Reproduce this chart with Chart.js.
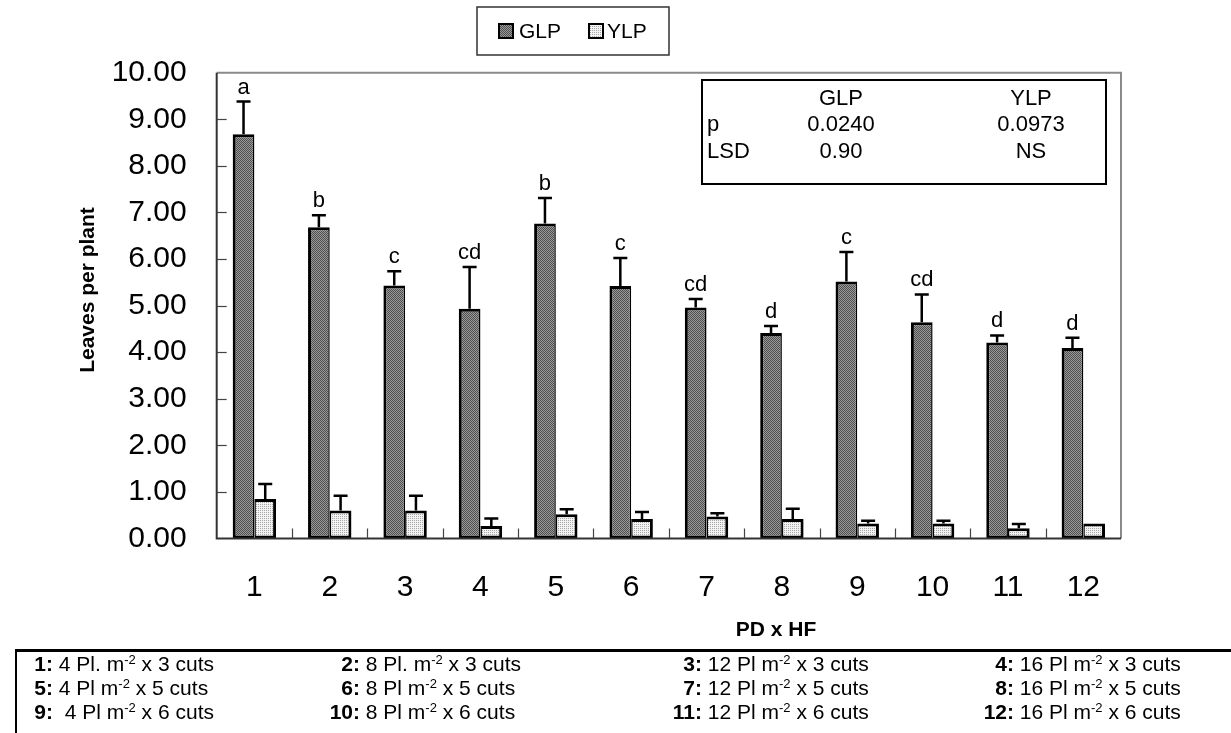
<!DOCTYPE html>
<html><head><meta charset="utf-8">
<script src="https://cdn.jsdelivr.net/npm/chart.js@4.4.1/dist/chart.umd.min.js"></script>
<style>
html,body{margin:0;padding:0;background:#fff;}
body{width:1231px;height:733px;position:relative;overflow:hidden;font-family:"Liberation Sans",Arial,sans-serif;}
#wrap{position:absolute;left:0;top:0;width:1231px;height:733px;}
.t{position:absolute;white-space:pre;line-height:1;color:#000;}
#inset{position:absolute;left:701px;top:79px;width:406px;height:106px;border:2px solid #000;box-sizing:border-box;}
#tblBox{position:absolute;left:15px;top:649px;width:1240px;height:120px;border-left:2px solid #000;border-top:3px solid #000;box-sizing:border-box;}
sup{font-size:0.62em;vertical-align:0.55em;line-height:0;}
</style></head>
<body>
<div id="wrap"><canvas id="c" width="1231" height="733"></canvas></div>
<div id="inset"></div>
<div id="tblBox"></div>
<div id="txt"></div>
<script>
// ---------- data ----------
const categories = ['1','2','3','4','5','6','7','8','9','10','11','12'];
const seriesNames = ['GLP','YLP'];
const glpMeans = [8.68, 6.68, 5.43, 4.93, 6.76, 5.42, 4.96, 4.41, 5.52, 4.64, 4.21, 4.09];
const glpSE    = [0.70, 0.26, 0.31, 0.90, 0.55, 0.60, 0.18, 0.15, 0.63, 0.60, 0.15, 0.22];
const ylpMeans = [0.85, 0.60, 0.60, 0.27, 0.52, 0.42, 0.47, 0.42, 0.32, 0.32, 0.22, 0.32];
const ylpSE    = [0.32, 0.32, 0.32, 0.16, 0.11, 0.15, 0.07, 0.22, 0.06, 0.06, 0.09, 0.00];
const glpLetters = ['a','b','c','cd','b','c','cd','d','c','cd','d','d'];
const yMin = 0, yMax = 10, yStep = 1;
const yTitle = 'Leaves per plant';
const xTitle = 'PD x HF';
const statsHeader = ['GLP','YLP'];
const statsRowNames = ['p','LSD'];
const statsP = ['0.0240','0.0973'];
const statsLSD = ['0.90','NS'];
const treatmentPrefix = ['1:','2:','3:','4:','5:','6:','7:','8:','9:','10:','11:','12:'];
const treatmentDensity = [' 4 Pl. m',' 8 Pl. m',' 12 Pl m',' 16 Pl m',
                          ' 4 Pl m',' 8 Pl m',' 12 Pl m',' 16 Pl m',
                          '  4 Pl m',' 8 Pl m',' 12 Pl m',' 16 Pl m'];
const treatmentCuts = [' x 3 cuts',' x 3 cuts',' x 3 cuts',' x 3 cuts',
                       ' x 5 cuts',' x 5 cuts',' x 5 cuts',' x 5 cuts',
                       ' x 6 cuts',' x 6 cuts',' x 6 cuts',' x 6 cuts'];

const FONT = '"Liberation Sans", Arial, sans-serif';
const canvas = document.getElementById('c');
const c2d = canvas.getContext('2d');

function makePattern(bg, dot, mask){
  const p = document.createElement('canvas'); p.width = 2; p.height = 2;
  const x = p.getContext('2d');
  x.fillStyle = bg; x.fillRect(0,0,2,2);
  x.fillStyle = dot;
  mask.forEach(([i,j]) => x.fillRect(i,j,1,1));
  return c2d.createPattern(p,'repeat');
}
const glpFill = makePattern('#9a9a9a', '#4e4e4e', [[0,0],[1,1]]);
const ylpFill = makePattern('#f3f3f3', '#a6a6a6', [[0,0]]);

// ---------- custom drawing ----------
const decor = {
  id: 'decor',
  afterDatasetsDraw(chart){
    const {ctx, chartArea: a, scales: {x, y}} = chart;
    ctx.save();
    // frame
    ctx.lineWidth = 2;
    ctx.strokeStyle = '#8a8a8a';
    ctx.beginPath(); ctx.moveTo(a.left, a.top); ctx.lineTo(a.right, a.top); ctx.lineTo(a.right, a.bottom); ctx.stroke();
    ctx.strokeStyle = '#333';
    ctx.beginPath(); ctx.moveTo(a.left, a.top); ctx.lineTo(a.left, a.bottom); ctx.lineTo(a.right, a.bottom); ctx.stroke();
    // inward ticks
    ctx.lineWidth = 1.2; ctx.strokeStyle = '#444';
    y.ticks.forEach(t => {
      if (t.value > yMin && t.value < yMax) {
        const py = Math.round(y.getPixelForValue(t.value)) + 0.5;
        ctx.beginPath(); ctx.moveTo(a.left, py); ctx.lineTo(a.left + 10, py); ctx.stroke();
      }
    });
    for (let i = 1; i < categories.length; i++) {
      const px = Math.round((x.getPixelForValue(i - 1) + x.getPixelForValue(i)) / 2) + 0.5;
      ctx.beginPath(); ctx.moveTo(px, a.bottom); ctx.lineTo(px, a.bottom - 10); ctx.stroke();
    }
    // error bars
    const sets = [[glpMeans, glpSE], [ylpMeans, ylpSE]];
    ctx.strokeStyle = '#000'; ctx.lineWidth = 2.5;
    sets.forEach(([m, se], d) => {
      const meta = chart.getDatasetMeta(d);
      meta.data.forEach((bar, i) => {
        if (!(se[i] > 0)) return;
        const top = y.getPixelForValue(m[i] + se[i]);
        ctx.beginPath();
        ctx.moveTo(bar.x, bar.y); ctx.lineTo(bar.x, top);
        ctx.moveTo(bar.x - 7, top); ctx.lineTo(bar.x + 7, top);
        ctx.stroke();
      });
    });
    // significance letters
    ctx.fillStyle = '#000';
    ctx.font = '22px ' + FONT;
    ctx.textAlign = 'center'; ctx.textBaseline = 'alphabetic';
    const gm = chart.getDatasetMeta(0);
    gm.data.forEach((bar, i) => {
      const top = y.getPixelForValue(glpMeans[i] + glpSE[i]);
      ctx.fillText(glpLetters[i], bar.x, top - 8);
    });
    ctx.restore();
  },
  afterDraw(chart){
    const {ctx} = chart;
    ctx.save();
    ctx.fillStyle = '#000';
    ctx.font = 'bold 21px ' + FONT;
    ctx.textAlign = 'center'; ctx.textBaseline = 'middle';
    // y title
    ctx.save(); ctx.translate(88, 290); ctx.rotate(-Math.PI/2); ctx.fillText(yTitle, 0, 0); ctx.restore();
    // x title
    ctx.fillText(xTitle, 776, 630);
    // legend
    ctx.strokeStyle = '#333'; ctx.lineWidth = 1.5;
    ctx.strokeRect(477, 7, 192, 48);
    const fills = [glpFill, ylpFill];
    const boxX = [499, 589], txtX = [519, 607];
    ctx.font = '21px ' + FONT; ctx.textAlign = 'left';
    seriesNames.forEach((n, k) => {
      ctx.fillStyle = fills[k]; ctx.fillRect(boxX[k], 24, 14, 14);
      ctx.strokeStyle = '#000'; ctx.lineWidth = 2; ctx.strokeRect(boxX[k], 24, 14, 14);
      ctx.fillStyle = '#000'; ctx.fillText(n, txtX[k], 32);
    });
    ctx.restore();
  }
};

new Chart(canvas, {
  type: 'bar',
  data: {
    labels: categories,
    datasets: [
      {label: seriesNames[0], data: glpMeans, backgroundColor: glpFill, borderColor: '#000',
       borderWidth: {top: 3, left: 3, right: 1.5, bottom: 3}, borderSkipped: false,
       categoryPercentage: 0.576, barPercentage: 1},
      {label: seriesNames[1], data: ylpMeans, backgroundColor: ylpFill, borderColor: '#000',
       borderWidth: {top: 3, left: 1.5, right: 3, bottom: 3}, borderSkipped: false,
       categoryPercentage: 0.576, barPercentage: 1}
    ]
  },
  options: {
    responsive: false, animation: false, devicePixelRatio: 1,
    layout: {padding: {top: 72.7, right: 110, left: 0, bottom: 0}},
    plugins: {legend: {display: false}, tooltip: {enabled: false}},
    scales: {
      x: {
        grid: {display: false, drawTicks: false, tickLength: 0}, border: {display: false},
        ticks: {font: {size: 30, family: FONT}, color: '#000', padding: 31, maxRotation: 0, autoSkip: false},
        afterFit(s){ s.height = 194.5; }
      },
      y: {
        min: yMin, max: yMax,
        grid: {display: false, drawTicks: false, tickLength: 0}, border: {display: false},
        ticks: {stepSize: yStep, font: {size: 30, family: FONT}, color: '#000', padding: 30,
                callback: v => Number(v).toFixed(2)},
        afterFit(s){ s.width = 216.7; }
      }
    }
  },
  plugins: [decor]
});

// ---------- HTML text: inset stats & treatment key ----------
const txt = document.getElementById('txt');
function place(html, x, cy, align, size, bold){
  const s = document.createElement('div');
  s.className = 't';
  s.style.fontSize = size + 'px';
  s.style.top = (cy - size / 2) + 'px';
  if (bold) s.style.fontWeight = 'bold';
  if (align === 'center') { s.style.left = x + 'px'; s.style.transform = 'translateX(-50%)'; }
  else if (align === 'right') { s.style.left = x + 'px'; s.style.transform = 'translateX(-100%)'; }
  else s.style.left = x + 'px';
  s.innerHTML = html;
  txt.appendChild(s);
}
const colX = [841, 1031];
statsHeader.forEach((h, k) => place(h, colX[k], 98, 'center', 22));
place(statsRowNames[0], 707, 124, 'left', 22);
statsP.forEach((v, k) => place(v, colX[k], 124, 'center', 22));
place(statsRowNames[1], 707, 151, 'left', 22);
statsLSD.forEach((v, k) => place(v, colX[k], 151, 'center', 22));

const keyPrefixRight = [53, 360, 702, 1014];
const keyRowY = [663, 687, 711];
treatmentPrefix.forEach((p, i) => {
  const col = i % 4, row = Math.floor(i / 4);
  place('<b>' + p + '</b>', keyPrefixRight[col], keyRowY[row], 'right', 21);
  place(treatmentDensity[i] + '<sup>-2</sup>' + treatmentCuts[i], keyPrefixRight[col], keyRowY[row], 'left', 21);
});
</script>
</body></html>
